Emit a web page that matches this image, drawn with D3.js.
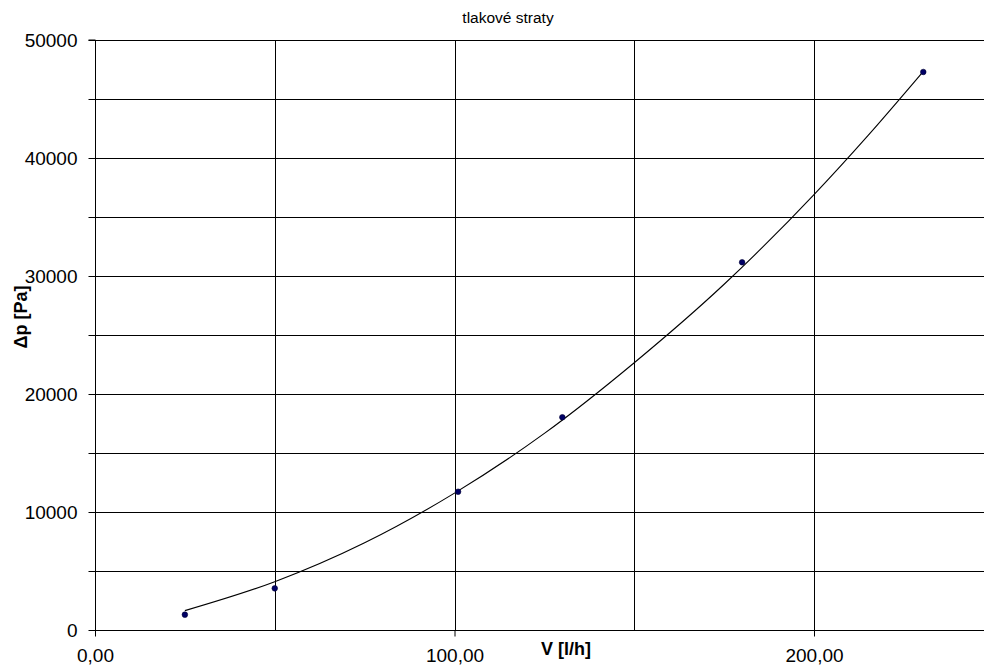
<!DOCTYPE html>
<html>
<head>
<meta charset="utf-8">
<script src="https://cdn.jsdelivr.net/npm/d3@7"></script>
<style>
  html, body { margin: 0; padding: 0; background: #fff; }
  svg { display: block; font-family: "Liberation Sans", Arial, sans-serif; }
</style>
</head>
<body>
<svg id="chart" width="984" height="665"></svg>
<script>
// ---- data ----
const flowValues = [25, 50, 101, 130, 180, 230.4];           // V [l/h]
const pressureValues = [1300, 3530, 11720, 18030, 31160, 47290]; // Δp [Pa]
// trend line
const trendX = [25, 50, 75, 100, 125, 150, 175, 200, 215, 230];
const trendY = [1640, 4090, 7390, 11600, 16660, 22650, 29300, 36900, 41900, 47200];
const yTickValues = [0, 10000, 20000, 30000, 40000, 50000];
const yGridValues = [0, 5000, 10000, 15000, 20000, 25000, 30000, 35000, 40000, 45000, 50000];
const xTickValues = [0, 100, 200];
const xTickLabels = ["0,00", "100,00", "200,00"];
const xGridValues = [50, 100, 150, 200];
const titleText = "tlakové straty";
const xTitle = "V [l/h]";
const yTitle = "Δp [Pa]";

// ---- layout ----
const svg = d3.select("#chart");
const x = d3.scaleLinear().domain([0, 250]).range([95, 95 + 250 * 3.595]);
const y = d3.scaleLinear().domain([0, 50000]).range([630, 40]);

// grid
const grid = svg.append("g");
grid.selectAll("line.h").data(yGridValues).enter().append("line")
  .attr("x1", x(0)).attr("x2", x(250))
  .attr("y1", d => Math.round(y(d)) + 0.5).attr("y2", d => Math.round(y(d)) + 0.5)
  .attr("stroke", "#000").attr("stroke-width", 1);
grid.selectAll("line.v").data(xGridValues).enter().append("line")
  .attr("x1", d => Math.round(x(d)) + 0.5).attr("x2", d => Math.round(x(d)) + 0.5)
  .attr("y1", y(50000)).attr("y2", y(0))
  .attr("stroke", "#000").attr("stroke-width", 1);

// y axis
const yAxis = d3.axisLeft(y).tickValues(yGridValues).tickSize(7).tickPadding(11)
  .tickFormat(d => yTickValues.includes(d) ? String(d) : "");
const gy = svg.append("g").attr("transform", `translate(${Math.round(x(0)) + 0.5},0)`).call(yAxis);
gy.select(".domain").attr("d", `M-7,${y(50000)}H0V${y(0)}`).attr("stroke", "#000");
gy.selectAll(".tick line").attr("stroke", "#000");
gy.selectAll(".tick text").attr("font-size", 19).attr("fill", "#000")
  .attr("font-family", "Liberation Sans, Arial, sans-serif");

// x axis
const xAxis = d3.axisBottom(x).tickValues(xTickValues).tickSize(6).tickPadding(12)
  .tickFormat((d, i) => xTickLabels[i]);
const gx = svg.append("g").attr("transform", `translate(0,${Math.round(y(0)) + 0.5})`).call(xAxis);
gx.select(".domain").attr("d", `M${x(0)},0H984`).attr("stroke", "#000");
gx.selectAll(".tick line").attr("stroke", "#000");
gx.selectAll(".tick text").attr("font-size", 19).attr("fill", "#000")
  .attr("font-family", "Liberation Sans, Arial, sans-serif");

// trend line
const trend = trendX.map((d, i) => [d, trendY[i]]);
svg.append("path").datum(trend)
  .attr("fill", "none").attr("stroke", "#000").attr("stroke-width", 1.1)
  .attr("d", d3.line().x(d => x(d[0])).y(d => y(d[1])).curve(d3.curveMonotoneX));

// points
svg.append("g").selectAll("circle").data(flowValues).enter().append("circle")
  .attr("cx", d => x(d)).attr("cy", (d, i) => y(pressureValues[i]))
  .attr("r", 2.8).attr("fill", "#000066").attr("stroke", "#000033").attr("stroke-width", 0.6);

// titles
svg.append("text").attr("x", 508).attr("y", 23).attr("text-anchor", "middle")
  .attr("font-size", 15.5).attr("fill", "#000").text(titleText);
svg.append("text").attr("x", 566).attr("y", 655).attr("text-anchor", "middle")
  .attr("font-size", 18).attr("font-weight", "bold").attr("fill", "#000").text(xTitle);
svg.append("text").attr("transform", "translate(27,317) rotate(-90)").attr("text-anchor", "middle")
  .attr("font-size", 18).attr("font-weight", "bold").attr("fill", "#000").text(yTitle);
</script>
</body>
</html>
